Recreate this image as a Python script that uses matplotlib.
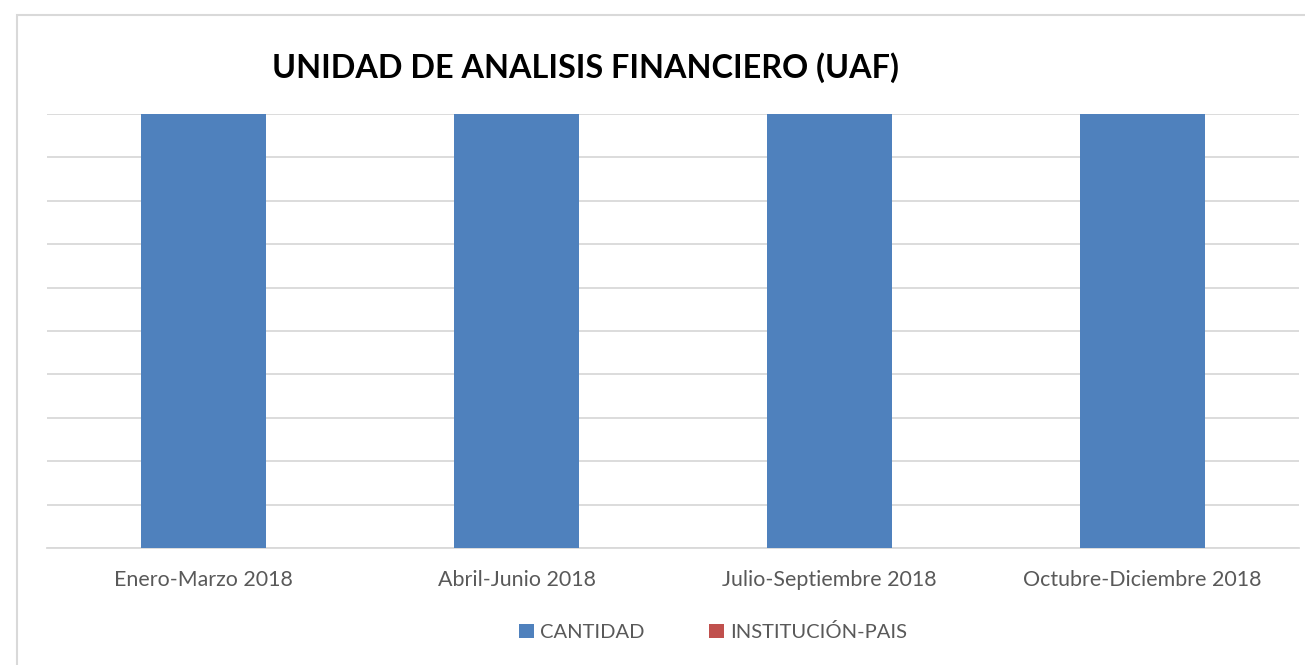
import matplotlib.pyplot as plt
import numpy as np
from matplotlib.patches import Patch, Rectangle

# data
periodos = ["Enero-Marzo 2018", "Abril-Junio 2018", "Julio-Septiembre 2018", "Octubre-Diciembre 2018"]
cantidad = [1, 1, 1, 1]
series = ["CANTIDAD", "INSTITUCIÓN-PAIS"]
colores = ["#4f81bd", "#c0504d"]

plt.rcParams["font.family"] = ["Lato", "DejaVu Sans"]

fig = plt.figure(figsize=(13.05, 6.65), dpi=100)
fig.patch.set_facecolor("white")

# chart frame
fig.add_artist(Rectangle((17 / 1305, -0.1), 1.2, 1 - 15 / 665 + 0.1,
                         transform=fig.transFigure, fill=False,
                         edgecolor="#d9d9d9", linewidth=1.5))

ax = fig.add_axes([47 / 1305, 1 - 548 / 665, (1299 - 47) / 1305, (548 - 114) / 665])
x = np.arange(len(periodos))
ax.bar(x, cantidad, width=0.4, color=colores[0], zorder=3)

ax.set_xlim(-0.5, len(periodos) - 0.5)
ax.set_ylim(0, 1)
ax.set_yticks(np.linspace(0, 1, 11))
ax.set_yticklabels([])
ax.tick_params(axis="y", length=0)
ax.tick_params(axis="x", length=0, pad=16, labelsize=15.4, labelcolor="#595959")
ax.set_xticks(x)
ax.set_xticklabels(periodos)
ax.grid(axis="y", color="#d9d9d9", linewidth=1.3, zorder=0)
for s in ["left", "right", "top"]:
    ax.spines[s].set_visible(False)
ax.spines["bottom"].set_color("#d9d9d9")
ax.spines["bottom"].set_linewidth(1.3)

fig.text(586 / 1305, 1 - 68 / 665, "UNIDAD DE ANALISIS FINANCIERO (UAF)",
         ha="center", va="center", fontsize=23.3, fontweight="bold", color="black")

handles = [Patch(facecolor=c, edgecolor="none") for c in colores]
fig.legend(handles, series, loc="center", bbox_to_anchor=(713 / 1305, 1 - 632 / 665),
           ncol=2, frameon=False, fontsize=14.5, labelcolor="#595959",
           handlelength=0.75, handleheight=0.75, handletextpad=0.3, columnspacing=3.2)

fig.savefig("out.png", dpi=100, facecolor="white")
